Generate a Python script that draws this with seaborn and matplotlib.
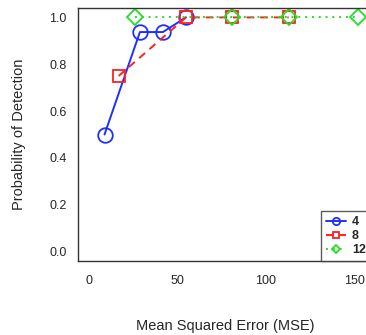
import numpy as np
import pandas as pd
import matplotlib
matplotlib.use("Agg")
import matplotlib.pyplot as plt
import seaborn as sns

# values
mse_4 = [9, 29, 42, 55]
pd_4 = [0.5, 0.9375, 0.9375, 1.0]
mse_8 = [17, 55, 81, 113]
pd_8 = [0.75, 1.0, 1.0, 1.0]
mse_12 = [26, 81, 113, 152]
pd_12 = [1.0, 1.0, 1.0, 1.0]
labels = ["4", "8", "12"]

sns.set_style("white")
plt.rcParams["font.family"] = ["Liberation Sans", "DejaVu Sans"]
plt.rcParams["xtick.direction"] = "in"
plt.rcParams["ytick.direction"] = "in"

fig = plt.figure(figsize=(3.66, 3.35), dpi=100)
# axes runs past the right edge of the picture, as in the reference
ax = fig.add_axes([0.213, 0.221, 0.803, 0.755])

series = [
    (mse_4, pd_4, "#1f2fff", "-", "o", 10.5),
    (mse_8, pd_8, "#ff2020", (0, (4, 3)), "s", 8.5),
    (mse_12, pd_12, "#22e022", (0, (1, 2.5)), "D", 8.5),
]
for (x, y, col, ls, mk, ms), lab in zip(series, labels):
    df = pd.DataFrame({"mse": x, "pd": y})
    sns.lineplot(data=df, x="mse", y="pd", ax=ax, color=col, linestyle=ls,
                 marker=mk, markersize=ms, markerfacecolor="none",
                 markeredgecolor=col, markeredgewidth=1.3, linewidth=1.4,
                 label=lab)

ax.set_xlim(-6, 160)
ax.set_ylim(-0.04, 1.04)
ax.set_xticks([0, 50, 100, 150])
ax.set_yticks([0.0, 0.2, 0.4, 0.6, 0.8, 1.0])
ax.set_yticklabels(["0.0", "0.2", "0.4", "0.6", "0.8", "1.0"])
ax.tick_params(axis="both", length=4, width=0.8, labelsize=9, color="#333333",
               pad=8)
ax.tick_params(axis="x", pad=10)
for s in ax.spines.values():
    s.set_color("#333333")
    s.set_linewidth(1.0)

ax.set_xlabel("Mean Squared Error (MSE)", fontsize=10.5, labelpad=23)
ax.set_ylabel("Probability of Detection", fontsize=10.5, labelpad=17)

leg = ax.legend(loc="lower left", bbox_to_anchor=(0.826, 0.0), frameon=True,
                fancybox=False, markerscale=0.5,
                prop={"weight": "bold", "size": 9},
                handlelength=1.6, handletextpad=0.5, labelspacing=0.15,
                borderpad=0.4, borderaxespad=0)
leg.get_frame().set_edgecolor("#333333")
leg.get_frame().set_linewidth(1.0)

fig.savefig("out.png", dpi=100)
